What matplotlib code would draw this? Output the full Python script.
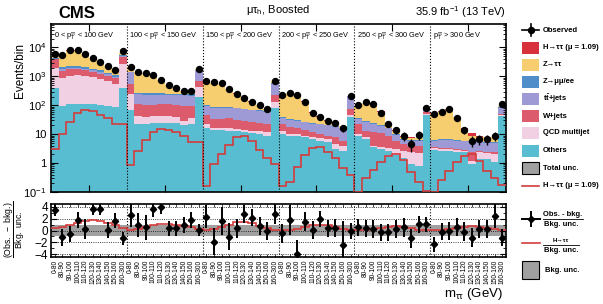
import numpy as np
import matplotlib
matplotlib.use("Agg")
import matplotlib.pyplot as plt
from matplotlib.patches import Rectangle
from matplotlib.lines import Line2D

plt.rcParams['font.family'] = ['Liberation Sans', 'DejaVu Sans']
plt.rcParams['mathtext.fontset'] = 'custom'
plt.rcParams['mathtext.rm'] = 'Liberation Sans'
plt.rcParams['mathtext.it'] = 'Liberation Sans:italic'
plt.rcParams['mathtext.bf'] = 'Liberation Sans:bold'

# ---------------- data ----------------
pt_regions = [r"0 < p$_{\mathrm{T}}^{\mathrm{\tau\tau}}$ < 100 GeV",
              r"100 < p$_{\mathrm{T}}^{\mathrm{\tau\tau}}$ < 150 GeV",
              r"150 < p$_{\mathrm{T}}^{\mathrm{\tau\tau}}$ < 200 GeV",
              r"200 < p$_{\mathrm{T}}^{\mathrm{\tau\tau}}$ < 250 GeV",
              r"250 < p$_{\mathrm{T}}^{\mathrm{\tau\tau}}$ < 300 GeV",
              r"p$_{\mathrm{T}}^{\mathrm{\tau\tau}}$ > 300 GeV"]
mass_bins = ["0-80", "80-90", "90-100", "100-110", "110-120",
             "120-130", "130-140", "140-150", "150-160", "160-300"]

others = [406, 95, 108, 114, 114, 108, 100, 95, 88, 406,
          68, 22, 23, 24, 25, 25, 24, 20, 22, 190,
          17, 14, 14, 13, 12.4, 11.5, 11, 10, 8.8, 80,
          10, 8.8, 8.8, 7.7, 6.8, 5.9, 5.2, 3.0, 2.7, 40,
          8.8, 6.8, 3.5, 3.0, 2.7, 1.9, 1.5, 0.92, 0.8, 45,
          2.8, 2.7, 2.7, 2.5, 2.4, 0.92, 1.4, 1.4, 1.1, 43]
qcd = [1594, 805, 922, 966, 916, 840, 730, 595, 470, 2324,
       182, 21, 17, 19, 18, 18, 16, 9, 13, 230,
       5, 3, 2.2, 3.2, 2.8, 2.5, 2, 2.4, 2.7, 45,
       3, 1.7, 1.2, 1.1, 1.2, 1.2, 1.6, 1.5, 1.3, 7,
       1.2, 0.9, 0.5, 0.7, 0.6, 1.1, 1.2, 1.5, 1.4, 7,
       0.6, 0.3, 0.3, 0.4, 0.3, 0.28, 1.0, 0.8, 0.9, 3]
wjets = [1860, 630, 710, 660, 580, 462, 410, 340, 295, 2040,
         310, 65, 60, 57, 65, 65, 60, 66, 60, 300,
         25, 16, 17, 19, 16, 15, 13, 12.6, 11.5, 110,
         9, 7.5, 6, 5.2, 3.5, 2.9, 2, 3.2, 1.9, 30,
         12, 5.3, 7.5, 6.9, 5.5, 2.9, 1.8, 1.6, 1.8, 8,
         0.2, 0.4, 0.4, 0.1, 0.1, 1.2, 0.3, 0.3, 0.4, 6]
ttbar = [210, 310, 250, 250, 230, 200, 170, 140, 120, 260,
         820, 132, 125, 120, 117, 117, 120, 125, 115, 880,
         48, 50, 50, 48, 47, 44, 42, 39, 37, 320,
         14, 13, 13, 12, 11.5, 12, 11.2, 10.3, 10.1, 125,
         11, 14, 11.5, 8.4, 7.2, 3.6, 1.8, 2.0, 1.9, 15,
         2.3, 2.8, 2.8, 2.9, 2.8, 2.8, 2.5, 2.5, 2.4, 31]
zll = [330, 260, 280, 280, 260, 230, 200, 170, 137, 410,
       70, 33, 35, 40, 35, 30, 35, 35, 30, 50,
       5, 5, 5, 5, 2, 4, 3, 3, 2, 45,
       2, 2, 1, 1, 1, 1, 1, 1, 1, 5,
       3, 2, 2, 1.5, 1, 0.5, 0.5, 0.3, 0.3, 3,
       0.4, 0.4, 0.4, 0.4, 0.4, 0.4, 0.4, 0.3, 0.4, 5]
ztt = [1340, 3340, 5600, 5600, 3940, 2560, 1600, 930, 500, 1100,
       600, 1127, 1070, 810, 480, 235, 130, 55, 70, 150,
       565, 525, 442, 268, 172, 97, 59, 33, 11, 90,
       189, 226, 197, 107, 32, 17, 8, 5, 1.5, 3,
       59, 95, 83, 39.5, 6, 2.4, 0.9, 1.0, 0.9, 4,
       45.7, 54.4, 64.4, 31.7, 8.6, 3.2, 2.1, 2.4, 2.5, 7]
htt = [3, 10.5, 27, 55, 68, 65, 48, 36, 22, 22,
       0.85, 2.6, 6.5, 12, 15, 14.5, 12, 9, 5.3, 5.3,
       0.16, 0.9, 2.0, 4.2, 8, 9, 5.6, 2.9, 1.5, 0.9,
       0.16, 0.23, 0.74, 1.9, 3.2, 3.6, 2.4, 1.45, 0.66, 0.39,
       0.1, 0.3, 0.6, 1.1, 1.7, 2.0, 1.3, 0.5, 0.22, 0.11,
       0.1, 0.25, 0.55, 1.1, 1.8, 2.1, 1.2, 0.55, 0.3, 0.18]
observed = [6000, 5400, 8300, 8100, 6000, 4400, 3100, 2300, 1650, 7400,
            2100, 1410, 1340, 1080, 750, 490, 385, 312, 312, 1840,
            690, 638, 573, 356, 252, 174, 130, 100, 73, 690,
            227, 259, 227, 134, 56, 40, 29, 24, 16, 210,
            100, 130, 108, 56, 22, 14, 9, 4.5, 9.5, 83,
            52, 61, 73, 35, 14, 6, 7, 7, 9, 108]

pull = [3.49, -1.16, -0.6, 1.79, 0.2, 3.66, 3.66, 0.09, 1.68, -1.33,
        2.64, 0.94, 0.54, 3.66, 4.06, 0.37, 0.37, 0.94, 1.79, 0.09,
        2.36, -1.9, 1.62, -1.04, 0.37, 2.81, 2.19, 0.82, -0.08, 2.81,
        -0.48, 1.79, -4.05, 1.5, 0.09, 1.96, 0.37, 0.37, -2.47, -0.08,
        0.54, 0.37, 0.2, -0.31, -0.31, 0.2, 0.54, -1.33, 1.05, 1.05,
        -2.36, -0.2, -0.08, 0.54, -0.2, -1.22, 0.2, 0.2, 2.47, -1.22]
pull_err = [1.0, 1.4, 1.4, 1.4, 1.7, 1.0, 1.0, 1.3, 1.3, 1.1,
            2.0, 2.1, 2.1, 1.4, 1.2, 1.3, 1.3, 1.3, 1.3, 1.0,
            2.0, 2.3, 2.3, 2.3, 1.6, 1.5, 1.5, 1.5, 1.5, 1.7,
            1.6, 2.5, 2.5, 1.6, 1.5, 1.4, 1.4, 1.5, 4.0, 1.4,
            1.4, 1.4, 1.5, 1.4, 1.4, 1.5, 1.6, 1.6, 1.4, 1.3,
            1.3, 1.4, 1.5, 1.5, 1.6, 1.6, 1.5, 1.5, 2.0, 1.4]
sig_pull = [0.35, 0.55, 0.9, 1.25, 1.6, 1.7, 1.55, 1.3, 1.0, 0.35,
            0.1, 0.3, 0.6, 0.9, 1.1, 1.1, 1.0, 0.8, 0.55, 0.3,
            0.05, 0.25, 0.6, 1.0, 1.4, 1.5, 1.2, 0.8, 0.4, 0.15,
            0.05, 0.1, 0.3, 0.6, 0.9, 1.0, 0.85, 0.6, 0.3, 0.1,
            0.05, 0.1, 0.25, 0.45, 0.65, 0.75, 0.6, 0.35, 0.15, 0.05,
            0.05, 0.1, 0.25, 0.5, 0.65, 0.7, 0.6, 0.35, 0.2, 0.05]

# ---------------- style ----------------
C_OTH = '#58bdd0'
C_QCD = '#f2d0e4'
C_W = '#dc5b6d'
C_TT = '#9d9ad5'
C_ZLL = '#4f8ec8'
C_ZTT = '#f6cd6f'
C_H = '#d7323c'
C_SIG = '#d43c3c'
C_UNC = '#a0a0a0'

nb = len(observed)
edges = np.arange(nb + 1)
centers = edges[:-1] + 0.5

fig = plt.figure(figsize=(6.03, 3.04), dpi=100)
W, H = 603.0, 304.0
def ax_rect(l, t, r, b):
    return [l / W, 1 - b / H, (r - l) / W, (b - t) / H]

ax = fig.add_axes(ax_rect(51, 24, 506, 192))
ax2 = fig.add_axes(ax_rect(51, 204, 506, 257))

# stacked backgrounds
comps = [(others, C_OTH), (qcd, C_QCD), (wjets, C_W), (ttbar, C_TT),
         (zll, C_ZLL), (ztt, C_ZTT), (htt, C_H)]
base = np.full(nb, 1e-3)
for vals, col in comps:
    top = base + np.asarray(vals, float)
    ax.stairs(top, edges, baseline=base, fill=True, color=col, lw=0)
    base = top

ax.stairs(htt, edges, baseline=None, color=C_SIG, lw=1.2, zorder=4)
obs = np.asarray(observed, float)
ax.errorbar(centers, obs, yerr=np.sqrt(obs), fmt='o', color='k', ms=4.3,
            elinewidth=1.0, capsize=0, zorder=5)

ax.set_yscale('log')
ax.set_ylim(0.1, 6.5e4)
ax.set_xlim(0, nb)
ax.set_yticks([0.1, 1, 10, 100, 1000, 1e4])
ax.set_yticklabels(["10$^{-1}$", "1", "10", "10$^{2}$", "10$^{3}$", "10$^{4}$"], fontsize=8)
ax.set_xticks(np.arange(5, nb, 10))
ax.set_xticklabels([])
ax.tick_params(which='both', direction='in', top=True, right=True)
ax.tick_params(which='major', length=5, width=0.8)
ax.tick_params(which='minor', length=2.5, width=0.6)
ax.tick_params(axis='x', which='minor', bottom=False, top=False)
for s in ax.spines.values():
    s.set_linewidth(1.2)

for k in range(1, 6):
    ax.axvline(10 * k, color='k', ls=':', lw=0.8, zorder=6)
    ax2.axvline(10 * k, color='k', ls=':', lw=0.8, zorder=1)
for k, lab in enumerate(pt_regions):
    ax.text(10 * k + 0.35, 0.92, lab, transform=ax.get_xaxis_transform(),
            fontsize=5.3, va='center', ha='left', zorder=7)

# ratio panel
ax2.axhspan(-1, 1, color=C_UNC, lw=0, zorder=0)
ax2.stairs(sig_pull, edges, baseline=None, color=C_SIG, lw=1.2, zorder=3)
ax2.errorbar(centers, pull, yerr=pull_err, fmt='D', color='k', ms=3.2,
             elinewidth=1.4, capsize=0, zorder=5, clip_on=True)
ax2.set_xlim(0, nb)
ax2.set_ylim(-4.5, 4.5)
ax2.set_yticks([-4, -2, 0, 2, 4])
ax2.set_yticklabels(["\u22124", "\u22122", "0", "2", "4"], fontsize=8.5)
ax2.set_yticks(np.arange(-4, 5, 1), minor=True)
ax2.grid(axis='y', which='major', ls=':', color='k', lw=0.6, zorder=1)
ax2.set_xticks(centers)
ax2.set_xticklabels(mass_bins * 6, rotation=90, fontsize=4.8, va='top', ha='center')
ax2.tick_params(which='both', direction='in', top=True, right=True)
ax2.tick_params(axis='x', which='major', length=2, width=0.5, pad=2)
ax2.tick_params(axis='y', which='major', length=4, width=0.8, pad=2)
ax2.tick_params(axis='y', which='minor', length=2, width=0.6)
for s in ax2.spines.values():
    s.set_linewidth(1.2)

# texts
fig.text(58 / W, 1 - 13 / H, "CMS", fontsize=12, fontweight='bold', va='center', ha='left')
fig.text(278 / W, 1 - 10 / H, r"$\mathrm{\mu\tau_{h}}$, Boosted", fontsize=8, va='center', ha='center')
fig.text(506 / W, 1 - 12 / H, r"35.9 fb$^{-1}$ (13 TeV)", fontsize=8, va='center', ha='right')
fig.text(20 / W, 1 - 70 / H, "Events/bin", fontsize=8.5, rotation=90, va='center', ha='center')
fig.text(15 / W, 1 - 229 / H, r"$\dfrac{\mathrm{(Obs.\ -\ bkg.)}}{\mathrm{Bkg.\ unc.}}$",
         fontsize=6.2, rotation=90, va='center', ha='center')
fig.text(503 / W, 1.5 / H, r"m$_{\mathrm{\tau\tau}}$ (GeV)", fontsize=9.5, va='bottom', ha='right')

# legend (overlay in pixel coords)
lax = fig.add_axes([0, 0, 1, 1], zorder=10)
lax.set_xlim(0, W)
lax.set_ylim(H, 0)
lax.axis('off')
lfs = 5.5
bx0, bx1, tx = 522, 539, 543
rows = [30, 47.5, 64.5, 81.5, 98.5, 116, 133, 150.5, 168, 185.5]
# Observed
y = rows[0]
lax.add_line(Line2D([bx0, bx1], [y, y], color='k', lw=1.2))
lax.add_line(Line2D([(bx0 + bx1) / 2] * 2, [y - 6, y + 6], color='k', lw=1.2))
lax.plot([(bx0 + bx1) / 2], [y], 'o', color='k', ms=4.3)
lax.text(tx, y, "Observed", fontsize=lfs, fontweight='bold', va='center')
box_entries = [(C_H, "H\u2192\u03c4\u03c4 (\u03bc = 1.09)"),
               (C_ZTT, "Z\u2192\u03c4\u03c4"),
               (C_ZLL, "Z\u2192\u03bc\u03bc/ee"),
               (C_TT, r"t$\mathbf{\bar{t}}$+jets"),
               (C_W, "W+jets"),
               (C_QCD, "QCD multijet"),
               (C_OTH, "Others")]
for (col, lab), y in zip(box_entries, rows[1:8]):
    lax.add_patch(Rectangle((bx0, y - 6), bx1 - bx0, 12, facecolor=col, edgecolor='none'))
    lax.text(tx, y, lab, fontsize=lfs, fontweight='bold', va='center')
y = rows[8]
lax.add_patch(Rectangle((bx0, y - 6), bx1 - bx0, 12, facecolor=C_UNC, edgecolor='k', lw=0.8))
lax.text(tx, y, "Total unc.", fontsize=lfs, fontweight='bold', va='center')
y = rows[9]
lax.add_line(Line2D([bx0, bx1], [y, y], color=C_SIG, lw=1.2))
lax.text(tx, y, "H\u2192\u03c4\u03c4 (\u03bc = 1.09)", fontsize=lfs, fontweight='bold', va='center')

# ratio legend
y = 219
lax.add_line(Line2D([bx0, bx1 + 1], [y, y], color='k', lw=1.4))
lax.add_line(Line2D([(bx0 + bx1) / 2] * 2, [y - 7, y + 7], color='k', lw=1.4))
lax.plot([(bx0 + bx1) / 2], [y], 'D', color='k', ms=3.2)
lax.text(tx + 20, y - 1.2, "Obs. - bkg.", fontsize=lfs, fontweight='bold', va='bottom', ha='center')
lax.add_line(Line2D([tx, tx + 40], [y, y], color='k', lw=0.6))
lax.text(tx + 18, y + 1.5, "Bkg. unc.", fontsize=lfs, fontweight='bold', va='top', ha='center')
y = 245
lax.add_line(Line2D([bx0, bx1 + 1], [y - 2, y - 2], color=C_SIG, lw=1.2))
lax.text(tx + 18, y - 1.5, "H\u2192\u03c4\u03c4", fontsize=4.5, fontweight='bold', va='bottom', ha='center')
lax.add_line(Line2D([tx, tx + 36], [y, y], color='k', lw=0.6))
lax.text(tx + 18, y + 1.5, "Bkg. unc.", fontsize=lfs, fontweight='bold', va='top', ha='center')
y = 270
lax.add_patch(Rectangle((bx0, y - 9), bx1 - bx0, 18, facecolor=C_UNC, edgecolor='k', lw=0.8))
lax.text(tx + 2, y, "Bkg. unc.", fontsize=lfs, fontweight='bold', va='center')

fig.savefig("out.png", dpi=100)
